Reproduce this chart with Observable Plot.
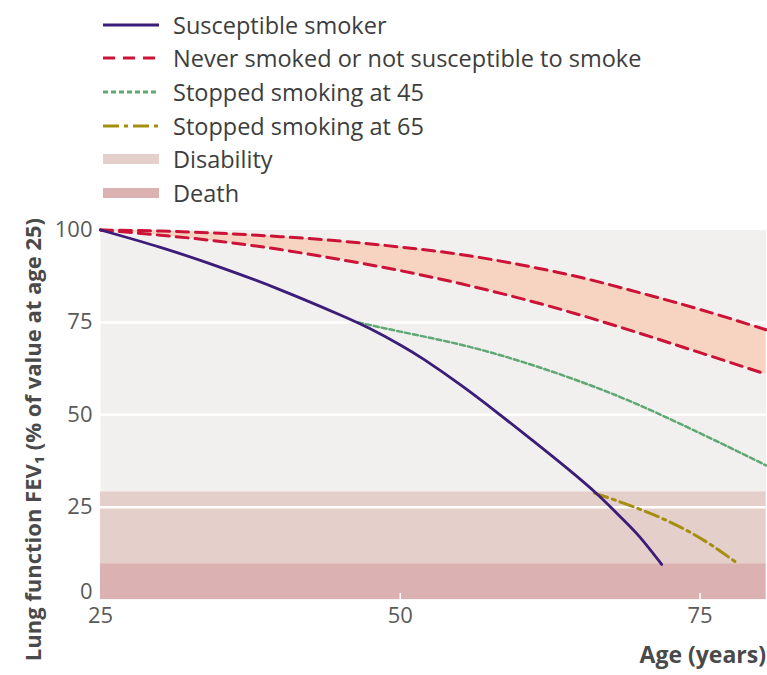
<!DOCTYPE html>
<html><head><meta charset="utf-8">
<script src="https://cdn.jsdelivr.net/npm/d3@7"></script>
<script src="https://cdn.jsdelivr.net/npm/@observablehq/plot@0.6"></script>
<style>
body{margin:0;background:#fff;font-family:"Open Sans",sans-serif;}
#legend{height:205px;box-sizing:border-box;padding-top:8px;}
.row{display:flex;align-items:center;height:33.6px;padding-left:103px;}
.row svg{width:56px;height:16px;margin-right:14px;flex:none;}
.row span{font-size:23.5px;color:#3d3d3d;white-space:nowrap;}
#chart svg{display:block;}
</style></head><body>
<div id="legend"></div>
<div id="chart"></div>
<script>
// ---- data ----
const xTicks = [25, 50, 75];
const yTicks = [25, 50, 75, 100];
const yTickZero = [0];
const gridValues = [25, 50, 75];

const smokerAge = [25, 30, 35, 40, 45, 47.5, 50, 52, 55, 58, 61, 64, 66.5, 68.5, 70, 71.8];
const smokerFev = [100, 95.3, 89.9, 83.8, 77, 73.25, 68.9, 64.9, 58.15, 50.8, 43.15, 35.3, 28.3, 21.9, 16.8, 9.5];

const neverAge = [25, 30, 35, 40, 45, 50, 55, 60, 65, 70, 75, 80.5];
const neverUpper = [100, 99.7, 99.1, 98.2, 97, 95.4, 93.4, 90.6, 87.2, 83, 78.5, 73];
const neverLower = [100, 98.6, 96.9, 94.7, 92, 89, 85.5, 81.5, 77, 72, 66.8, 61];

const stop45Age = [46.5, 50, 55, 60, 65, 70, 75, 78, 80.5];
const stop45Fev = [75, 72.5, 69, 64.5, 59, 52.5, 45, 40.3, 36.3];

const stop65Age = [66.2, 68, 70, 72, 74, 76, 78.2];
const stop65Fev = [28.8, 26.8, 24.4, 21.7, 18.5, 14.6, 9.6];

const bandNames = ["Disability", "Death"];
const bandLow = [0, 0];
const bandHigh = [29.1, 9.6];

const legendLabels = [
  "Susceptible smoker",
  "Never smoked or not susceptible to smoke",
  "Stopped smoking at 45",
  "Stopped smoking at 65",
  "Disability",
  "Death"
];
const xLabel = "Age (years)";
const yLabel = "Lung function FEV\u2081 (% of value at age 25)";

// ---- styles ----
const C = {
  purple: "#3b1c78", red: "#cc1236", green: "#5fa874", gold: "#a4900e",
  disability: "#e4cfcb", death: "#dbb1b2", band: "#f6d4c1", bg: "#f1f0ef"
};
const legendStyles = [
  {stroke: C.purple, w: 3, dash: null},
  {stroke: C.red, w: 3, dash: "12,8"},
  {stroke: C.green, w: 3, dash: "5,3"},
  {stroke: C.gold, w: 3, dash: "16,5,4,5"},
  {stroke: C.disability, w: 10, dash: null},
  {stroke: C.death, w: 10, dash: null}
];

// legend
const leg = document.getElementById("legend");
legendLabels.forEach((lab, i) => {
  const s = legendStyles[i];
  const row = document.createElement("div");
  row.className = "row";
  row.innerHTML = `<svg viewBox="0 0 56 16"><line x1="0" y1="8" x2="56" y2="8" stroke="${s.stroke}" stroke-width="${s.w}" ${s.dash ? `stroke-dasharray="${s.dash}"` : ""}/></svg><span>${lab}</span>`;
  leg.appendChild(row);
});

// ---- tables ----
const smoker = smokerAge.map((a, i) => ({age: a, fev: smokerFev[i]}));
const never = neverAge.map((a, i) => ({age: a, hi: neverUpper[i], lo: neverLower[i]}));
const stop45 = stop45Age.map((a, i) => ({age: a, fev: stop45Fev[i]}));
const stop65 = stop65Age.map((a, i) => ({age: a, fev: stop65Fev[i]}));
const bands = bandNames.map((n, i) => ({name: n, lo: bandLow[i], hi: bandHigh[i]}));

const chart = Plot.plot({
  width: 767, height: 470,
  marginLeft: 100, marginRight: 1.5, marginTop: 24.5, marginBottom: 76,
  x: {domain: [25, 80.5]},
  y: {domain: [0, 100]},
  style: {fontFamily: "Open Sans", fontSize: "22px", color: "#5a5a5a", background: "transparent"},
  marks: [
    Plot.frame({fill: C.bg, stroke: null}),
    Plot.rect(bands, {y1: "lo", y2: "hi", fill: d => d.name === "Death" ? C.death : C.disability}),
    Plot.ruleY(gridValues, {stroke: "white", strokeWidth: 2.5}),
    Plot.areaY(never, {x: "age", y1: "lo", y2: "hi", fill: C.band, curve: "natural"}),
    Plot.line(never, {x: "age", y: "hi", stroke: C.red, strokeWidth: 3, strokeDasharray: "12,7", curve: "natural"}),
    Plot.line(never, {x: "age", y: "lo", stroke: C.red, strokeWidth: 3, strokeDasharray: "12,7", curve: "natural"}),
    Plot.line(stop45, {x: "age", y: "fev", stroke: C.green, strokeWidth: 2.5, strokeDasharray: "5,3", curve: "natural"}),
    Plot.line(stop65, {x: "age", y: "fev", stroke: C.gold, strokeWidth: 3, strokeDasharray: "14,5,3,5", curve: "natural"}),
    Plot.line(smoker, {x: "age", y: "fev", stroke: C.purple, strokeWidth: 2.8, curve: "natural"}),
    Plot.axisY({ticks: yTicks, tickSize: 0, tickPadding: 8, label: null, fill: "#5a5a5a"}),
    Plot.axisY({ticks: yTickZero, tickSize: 0, tickPadding: 8, label: null, fill: "#5a5a5a", dy: -8}),
    Plot.axisX({ticks: xTicks, tickSize: 0, tickPadding: 8, label: null, fill: "#5a5a5a"}),
    Plot.axisX({ticks: xTicks.slice(1), tickSize: 6, dy: -6, text: null, label: null, stroke: "white", strokeWidth: 1.5}),
    Plot.text([xLabel], {frameAnchor: "bottom-right", dy: 63, textAnchor: "end", fontWeight: "bold", fill: "#4a4a4a", fontSize: 23}),
    Plot.text([yLabel], {frameAnchor: "top-left", rotate: -90, textAnchor: "end", dx: -75, dy: -12, fontWeight: "bold", fill: "#4a4a4a", fontSize: 22})
  ]
});
document.getElementById("chart").appendChild(chart);
</script></body></html>
